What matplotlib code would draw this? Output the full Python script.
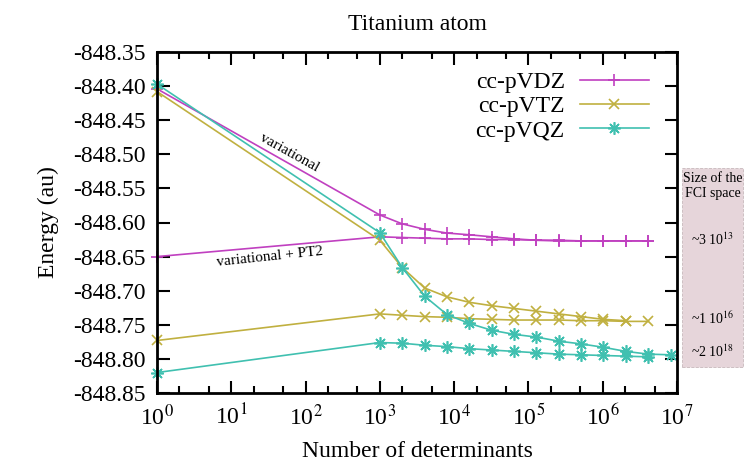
import matplotlib
matplotlib.use('Agg')
import matplotlib.pyplot as plt
import matplotlib.transforms as mtransforms
from matplotlib.patches import Rectangle
from matplotlib.ticker import FixedLocator, FormatStrFormatter, NullFormatter

plt.rcParams['font.family'] = ['Liberation Serif', 'DejaVu Serif']
plt.rcParams['mathtext.fontset'] = 'stix'

# ---- data ----
x_vdz_var = [1, 1000, 2000, 4000, 8000, 16000, 32000, 64000, 128000, 256000, 512000, 1024000, 2048000, 4096000]
y_vdz_var = [-848.404, -848.589, -848.602, -848.610, -848.6155, -848.618, -848.621, -848.624, -848.626,
             -848.627, -848.627, -848.627, -848.627, -848.627]
x_vdz_pt2 = [1, 1000, 2000, 4000, 8000, 16000, 32000, 64000, 128000, 256000, 512000, 1024000, 2048000, 4096000]
y_vdz_pt2 = [-848.650, -848.621, -848.622, -848.623, -848.624, -848.624, -848.625, -848.625, -848.626,
             -848.626, -848.627, -848.627, -848.627, -848.627]

x_vtz_var = [1, 1000, 2000, 4000, 8000, 16000, 32000, 64000, 128000, 256000, 512000, 1024000, 2048000]
y_vtz_var = [-848.408, -848.626, -848.666, -848.696, -848.709, -848.717, -848.722, -848.726, -848.730,
             -848.734, -848.738, -848.742, -848.744]
x_vtz_pt2 = [1, 1000, 2000, 4000, 8000, 16000, 32000, 64000, 128000, 256000, 512000, 1024000, 2048000, 4096000]
y_vtz_pt2 = [-848.773, -848.734, -848.736, -848.738, -848.739, -848.741, -848.742, -848.743, -848.743,
             -848.743, -848.744, -848.744, -848.745, -848.745]

x_vqz_var = [1, 1000, 2000, 4000, 8000, 16000, 32000, 64000, 128000, 256000, 512000, 1024000, 2048000, 4096000, 8192000]
y_vqz_var = [-848.397, -848.615, -848.666, -848.708, -848.735, -848.748, -848.758, -848.764, -848.768,
             -848.774, -848.778, -848.783, -848.789, -848.793, -848.794]
x_vqz_pt2 = [1, 1000, 2000, 4000, 8000, 16000, 32000, 64000, 128000, 256000, 512000, 1024000, 2048000, 4096000]
y_vqz_pt2 = [-848.820, -848.776, -848.777, -848.780, -848.782, -848.785, -848.787, -848.789, -848.791,
             -848.793, -848.794, -848.795, -848.796, -848.797]

labels = ['cc-pVDZ', 'cc-pVTZ', 'cc-pVQZ']
fci_header = ['Size of the', 'FCI space']
fci_header_y = [-848.535, -848.557]
fci_sizes = ['~3 10$^{13}$', '~1 10$^{16}$', '~2 10$^{18}$']
fci_y = [-848.625, -848.741, -848.790]

yticks = [-848.85, -848.80, -848.75, -848.70, -848.65, -848.60, -848.55, -848.50, -848.45, -848.40, -848.35]
xticks = [1, 10, 100, 1000, 1e4, 1e5, 1e6, 1e7]
xticklabels = ['10$^{0}$', '10$^{1}$', '10$^{2}$', '10$^{3}$', '10$^{4}$', '10$^{5}$', '10$^{6}$', '10$^{7}$']

c_dz = '#c040c0'
c_tz = '#c0b040'
c_qz = '#40c0b0'

W, H = 744, 462
fig = plt.figure(figsize=(W / 100, H / 100), dpi=100)
L, R, T, B = 157, 677, 52, 393
ax = fig.add_axes([L / W, 1 - B / H, (R - L) / W, (B - T) / H])

star = (8, 2, 0)
kw = dict(lw=1.2, clip_on=False)
ax.plot(x_vdz_var, y_vdz_var, color=c_dz, marker='+', ms=8.5, mew=1.2, label=labels[0], **kw)
ax.plot(x_vdz_pt2, y_vdz_pt2, color=c_dz, marker='+', ms=8.5, mew=1.2, **kw)
ax.plot(x_vtz_var, y_vtz_var, color=c_tz, marker='x', ms=7.5, mew=1.2, label=labels[1], **kw)
ax.plot(x_vtz_pt2, y_vtz_pt2, color=c_tz, marker='x', ms=7.5, mew=1.2, **kw)
ax.plot(x_vqz_var, y_vqz_var, color=c_qz, marker=star, ms=9, mew=1.2, label=labels[2], **kw)
ax.plot(x_vqz_pt2, y_vqz_pt2, color=c_qz, marker=star, ms=9, mew=1.2, **kw)

ax.set_xscale('log')
ax.set_xlim(1, 1e7)
ax.set_ylim(-848.85, -848.35)
ax.xaxis.set_major_locator(FixedLocator(xticks))
ax.set_xticklabels(xticklabels)
minors = [m * 10 ** k for k in range(7) for m in (2, 5)]
ax.xaxis.set_minor_locator(FixedLocator(minors))
ax.xaxis.set_minor_formatter(NullFormatter())
ax.yaxis.set_major_locator(FixedLocator(yticks))
ax.yaxis.set_major_formatter(FormatStrFormatter('%.2f'))

ax.tick_params(which='both', direction='in', top=True, right=True, width=1.5, labelsize=17)
ax.tick_params(which='major', length=9, pad=8)
ax.tick_params(which='minor', length=5)
for s in ax.spines.values():
    s.set_linewidth(2)

ax.set_xlabel('Number of determinants', fontsize=17, labelpad=8)
ax.set_ylabel('Energy (au)', fontsize=17, labelpad=10)
ax.set_title('Titanium atom', fontsize=17, pad=16)

ax.text(61, -848.4975, 'variational', fontsize=11, rotation=-29, ha='center', va='center')
ax.text(33.5, -848.651, 'variational + PT2', fontsize=11, rotation=6, ha='center', va='center')

leg = ax.legend(loc='upper right', bbox_to_anchor=(0.977, 0.992), frameon=False, markerfirst=False,
                fontsize=17, handlelength=2.9, labelspacing=0.12, handletextpad=0.65, borderpad=0.2)

# FCI size box
blend = mtransforms.blended_transform_factory(fig.transFigure, ax.transData)
x0 = 682 / W
rect = Rectangle((x0, -848.812), 1 - x0 - 0.002, 0.292, transform=blend, facecolor='#e6d5da',
                 edgecolor='#c8b8bc', lw=0.6, ls='--', clip_on=False)
fig.add_artist(rect)
xc = (x0 + 1) / 2
for s, yv in zip(fci_header, fci_header_y):
    fig.text(xc, yv, s, transform=blend, fontsize=10, ha='center', va='center')
for s, yv in zip(fci_sizes, fci_y):
    fig.text(xc, yv, s, transform=blend, fontsize=10, ha='center', va='center')

fig.savefig('out.png', dpi=100)
